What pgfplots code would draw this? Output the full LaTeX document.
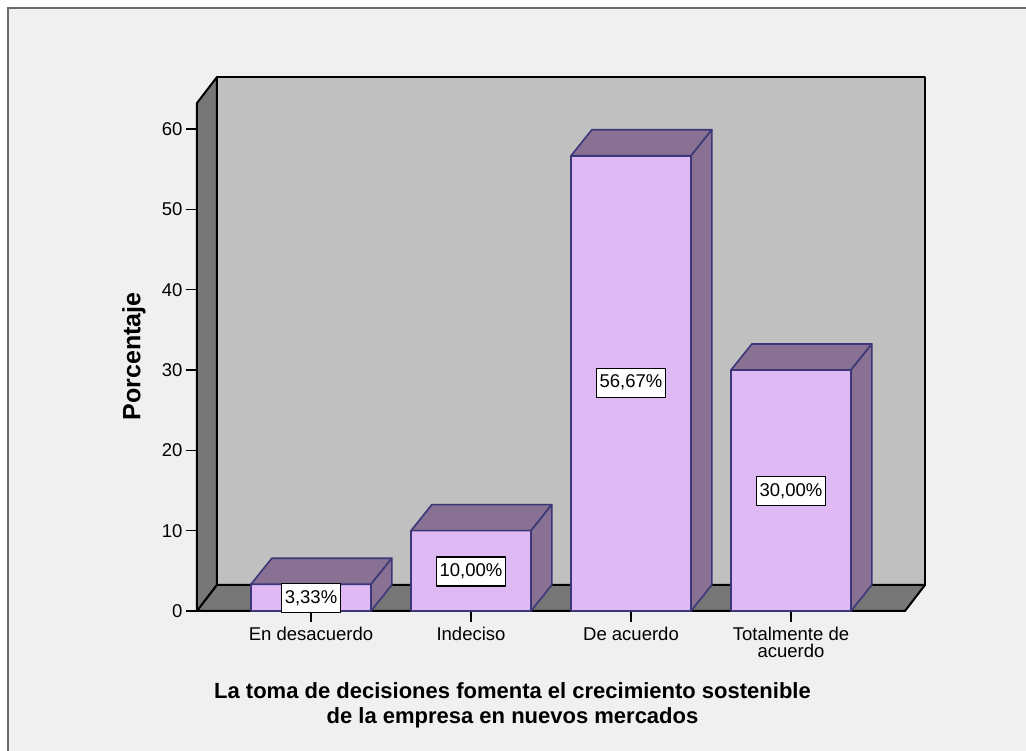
\documentclass[border=0pt]{standalone}
\usepackage{pgfplots}
\pgfplotsset{compat=1.18}
\usepackage{fontspec}
\setmainfont{Liberation Sans}
\definecolor{bg}{HTML}{F0F0F0}
\definecolor{framecol}{HTML}{6A6A6A}
\definecolor{backwall}{HTML}{C0C0C0}
\definecolor{darkwall}{HTML}{777777}
\definecolor{barfront}{HTML}{DFB9F4}
\definecolor{bartop}{HTML}{887192}
\definecolor{barline}{HTML}{3B3778}
\begin{document}
\begin{tikzpicture}
\useasboundingbox (-197pt,-140pt) rectangle (829pt,611pt);
\fill[white] (-197pt,-140pt) rectangle (829pt,611pt);
\fill[bg] (-189pt,-150pt) rectangle (840pt,603pt);
\draw[framecol, line width=2.5pt] (-189pt,-150pt) -- (-189pt,603pt) -- (840pt,603pt);
\begin{axis}[
  at={(0pt,0pt)}, anchor=south west, scale only axis, width=728pt, height=534pt,
  xmin=-0.7125, xmax=3.8375, ymin=0, ymax=66.48,
  clip=false,
  axis x line*=bottom, axis y line*=left,
  axis line style={draw=none},
  xtick={0,1,2,3},
  xticklabels={En desacuerdo, Indeciso, De acuerdo, {Totalmente de\\acuerdo}},
  ytick={0,10,20,30,40,50,60},
  tick align=outside, major tick length=11pt,
  tick style={black, line width=1.6pt},
  xticklabel style={align=center, font=\fontsize{18.5}{17}\selectfont, yshift=-2pt},
  yticklabel style={font=\fontsize{18.5}{20}\selectfont},
  /pgf/number format/assume math mode=true,
  ylabel={Porcentaje},
  ylabel style={font=\bfseries\fontsize{25}{28}\selectfont, at={(axis description cs:-0.0865,0.4766)}, anchor=center},
  xlabel={La toma de decisiones fomenta el crecimiento sostenible\\de la empresa en nuevos mercados},
  xlabel style={font=\bfseries\fontsize{22}{25}\selectfont, align=center, at={(axis description cs:0.4334,-0.176)}, anchor=center},
  every axis plot/.append style={line join=round},
]
% walls and floor
\addplot[fill=backwall, draw=black, line width=2pt] coordinates {(-0.5875,3.24) (3.8375,3.24) (3.8375,66.48) (-0.5875,66.48)} -- cycle;
\addplot[fill=darkwall, draw=black, line width=2pt] coordinates {(-0.7125,0) (-0.5875,3.24) (-0.5875,66.48) (-0.7125,63.24)} -- cycle;
\addplot[fill=darkwall, draw=black, line width=2pt] coordinates {(-0.7125,0) (3.7125,0) (3.8375,3.24) (-0.5875,3.24)} -- cycle;
% bar 1: 3.33
\addplot[fill=barfront, draw=barline, line width=1.6pt] coordinates {(-0.375,0) (0.375,0) (0.375,3.33) (-0.375,3.33)} -- cycle;
\addplot[fill=bartop, draw=barline, line width=1.6pt] coordinates {(-0.375,3.33) (0.375,3.33) (0.505,6.57) (-0.245,6.57)} -- cycle;
\addplot[fill=bartop, draw=barline, line width=1.6pt] coordinates {(0.375,0) (0.505,3.24) (0.505,6.57) (0.375,3.33)} -- cycle;
% bar 2: 10.00
\addplot[fill=barfront, draw=barline, line width=1.6pt] coordinates {(0.625,0) (1.375,0) (1.375,10) (0.625,10)} -- cycle;
\addplot[fill=bartop, draw=barline, line width=1.6pt] coordinates {(0.625,10) (1.375,10) (1.505,13.24) (0.755,13.24)} -- cycle;
\addplot[fill=bartop, draw=barline, line width=1.6pt] coordinates {(1.375,0) (1.505,3.24) (1.505,13.24) (1.375,10)} -- cycle;
% bar 3: 56.67
\addplot[fill=barfront, draw=barline, line width=1.6pt] coordinates {(1.625,0) (2.375,0) (2.375,56.67) (1.625,56.67)} -- cycle;
\addplot[fill=bartop, draw=barline, line width=1.6pt] coordinates {(1.625,56.67) (2.375,56.67) (2.505,59.91) (1.755,59.91)} -- cycle;
\addplot[fill=bartop, draw=barline, line width=1.6pt] coordinates {(2.375,0) (2.505,3.24) (2.505,59.91) (2.375,56.67)} -- cycle;
% bar 4: 30.00
\addplot[fill=barfront, draw=barline, line width=1.6pt] coordinates {(2.625,0) (3.375,0) (3.375,30) (2.625,30)} -- cycle;
\addplot[fill=bartop, draw=barline, line width=1.6pt] coordinates {(2.625,30) (3.375,30) (3.505,33.24) (2.755,33.24)} -- cycle;
\addplot[fill=bartop, draw=barline, line width=1.6pt] coordinates {(3.375,0) (3.505,3.24) (3.505,33.24) (3.375,30)} -- cycle;
% value labels
\addplot[draw=none, mark=none, nodes near coords, point meta=explicit symbolic,
  every node near coord/.style={anchor=center, fill=white, draw=black, line width=1.3pt,
    font=\fontsize{18.5}{20}\selectfont, text height=13pt, text depth=3pt, inner xsep=3pt, inner ysep=6.5pt}]
  coordinates {(0,1.6)[3,33\%] (1,4.9)[10,00\%] (2,28.4)[56,67\%] (3,14.9)[30,00\%]};
\end{axis}
\end{tikzpicture}
\end{document}
